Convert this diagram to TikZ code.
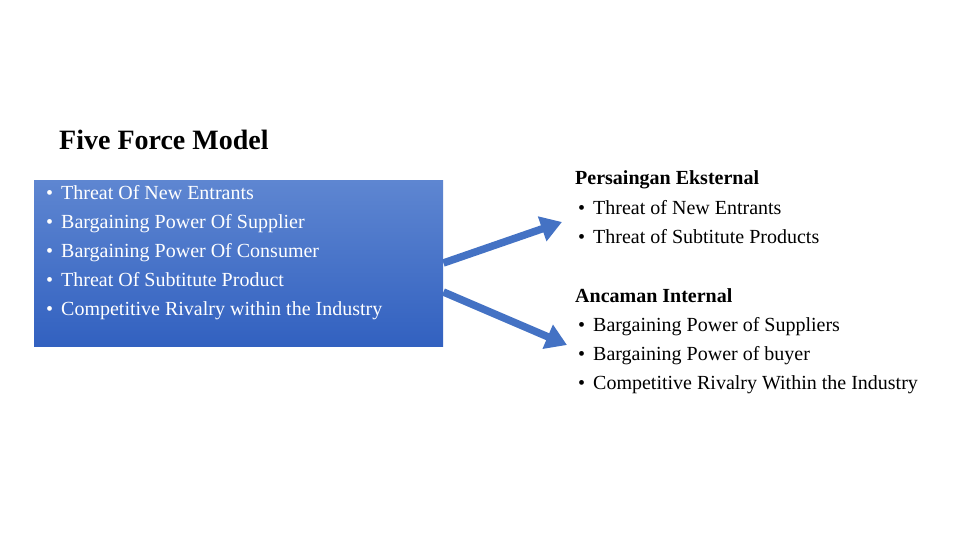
\documentclass[tikz,border=0pt]{standalone}
\usepackage{fontspec}
\setmainfont{Liberation Serif}
\usetikzlibrary{arrows.meta}
\definecolor{boxtop}{HTML}{5E86D1}
\definecolor{boxbot}{HTML}{3261C0}
\definecolor{arrowblue}{HTML}{4472C4}
\tikzset{
  whitetxt/.style={anchor=base west, inner sep=0pt, text=white, font=\fontsize{20}{24}\selectfont},
  blacktxt/.style={anchor=base west, inner sep=0pt, text=black, font=\fontsize{20}{24}\selectfont},
  headtxt/.style={anchor=base west, inner sep=0pt, text=black, font=\fontsize{20}{24}\selectfont\bfseries},
  bigarrow/.style={draw=arrowblue, line width=7.5pt, -{Triangle[length=21pt,width=25pt]}},
}
\newcommand{\bul}{\llap{\textbullet\hspace{8pt}}}
\begin{document}
\begin{tikzpicture}[x=1pt,y=-1pt]
\useasboundingbox (0,0) rectangle (960,540);
\fill[white] (0,0) rectangle (960,540);
\node[anchor=base west, inner sep=0pt, font=\fontsize{28}{32}\selectfont\bfseries] (title) at (59,150) {Five Force Model};
\node[draw=none, top color=boxtop, bottom color=boxbot, minimum width=409pt, minimum height=166pt, anchor=north west, inner sep=0pt] (box) at (34,180) {};
\node[whitetxt] (l1) at (61,199) {\bul Threat Of New Entrants};
\node[whitetxt] (l2) at (61,228) {\bul Bargaining Power Of Supplier};
\node[whitetxt] (l3) at (61,257) {\bul Bargaining Power Of Consumer};
\node[whitetxt] (l4) at (61,286) {\bul Threat Of Subtitute Product};
\node[whitetxt] (l5) at (61,315) {\bul Competitive Rivalry within the Industry};
\node[headtxt] (h1) at (575,185) {Persaingan Eksternal};
\node[blacktxt] (r1) at (593,214) {\bul Threat of New Entrants};
\node[blacktxt] (r2) at (593,243) {\bul Threat of Subtitute Products};
\node[headtxt] (h2) at (575,302) {Ancaman Internal};
\node[blacktxt] (r3) at (593,331) {\bul Bargaining Power of Suppliers};
\node[blacktxt] (r4) at (593,360) {\bul Bargaining Power of buyer};
\node[blacktxt] (r5) at (593,389) {\bul Competitive Rivalry Within the Industry};
\coordinate (t1) at (562,222);
\coordinate (t2) at (567,345);
\draw[bigarrow] (box.east |- 0,263) -- (t1);
\draw[bigarrow] (box.east |- 0,292) -- (t2);
\end{tikzpicture}
\end{document}
